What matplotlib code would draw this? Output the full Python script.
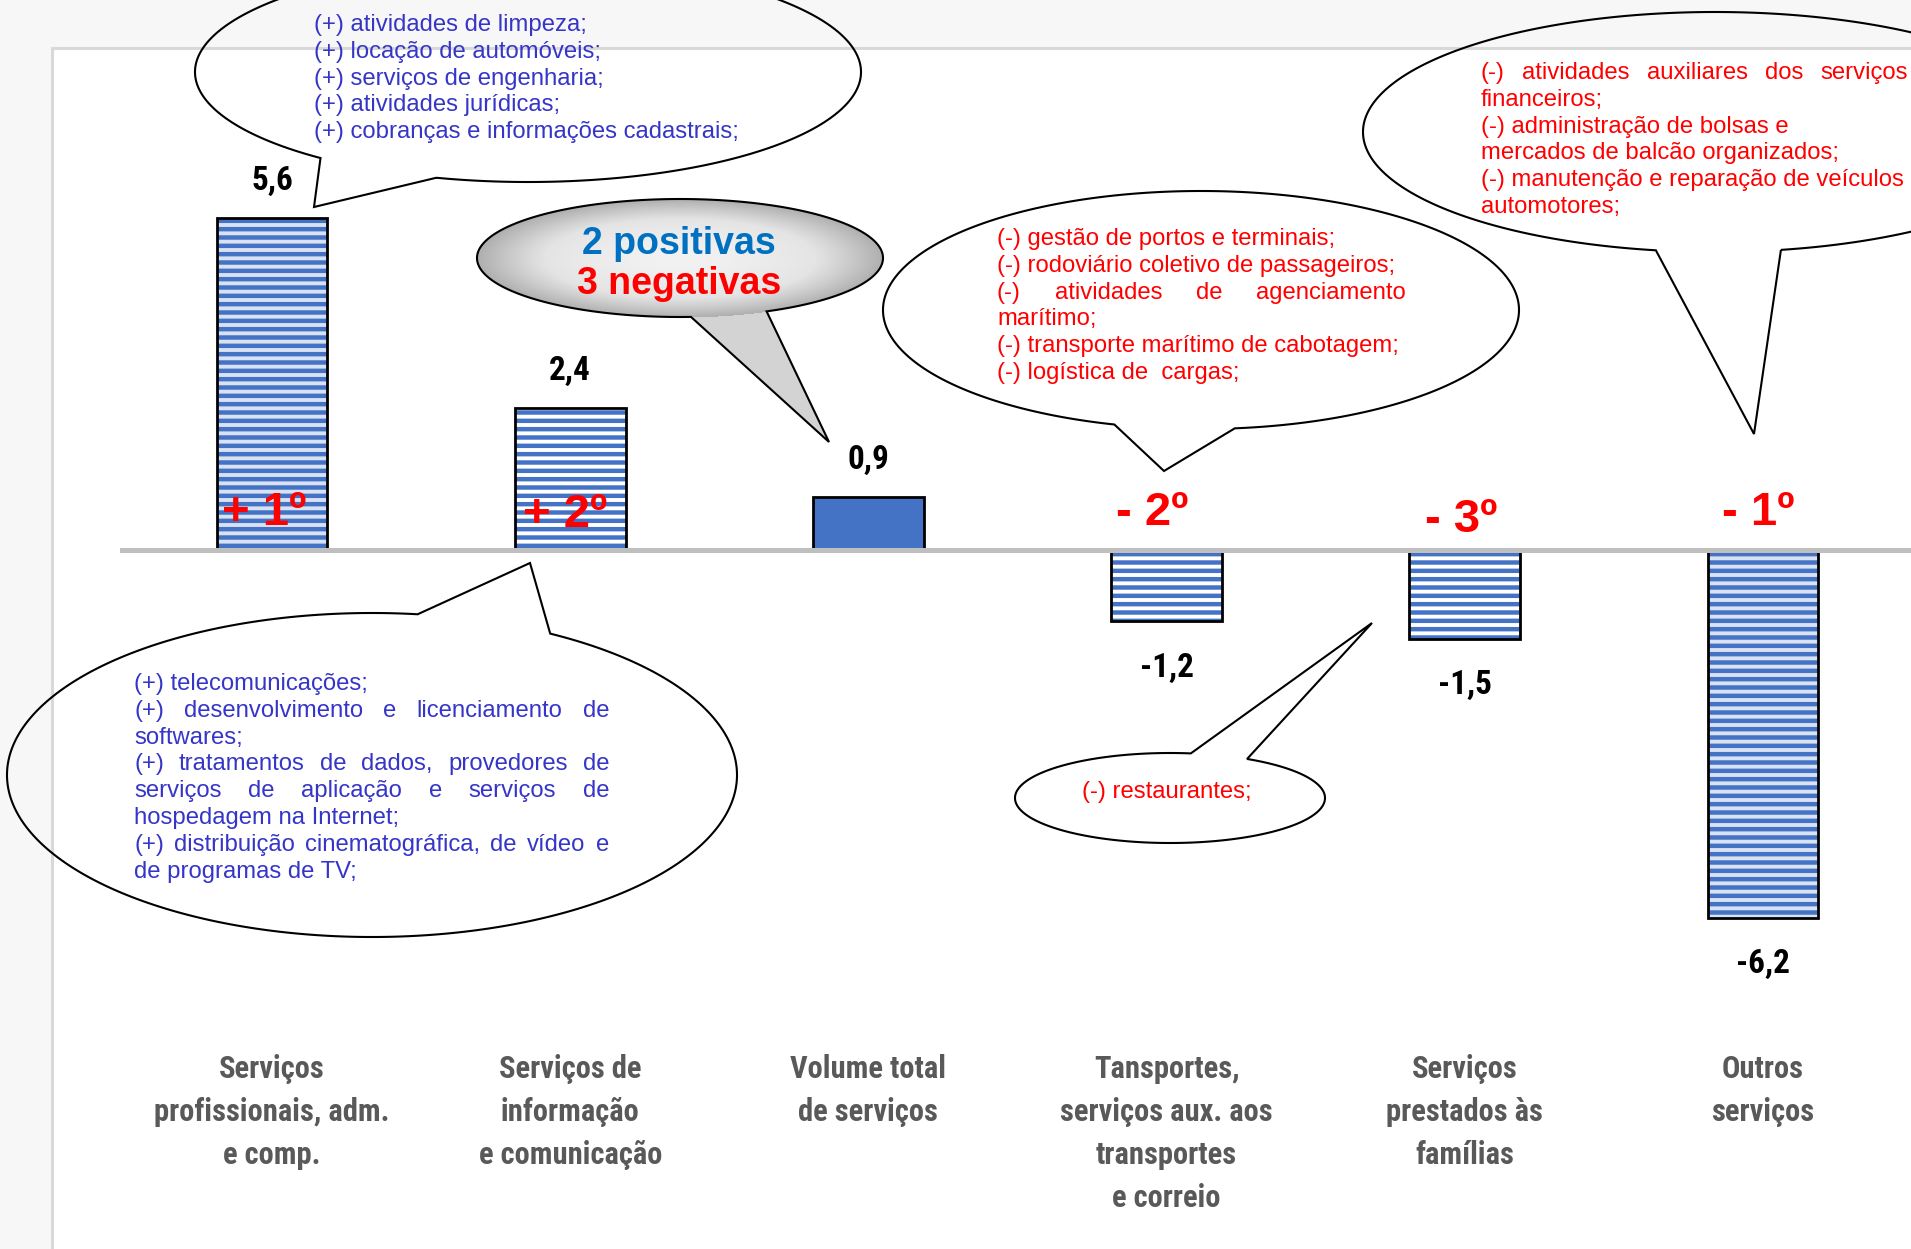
import os
import numpy as np
import matplotlib
matplotlib.use('Agg')
import matplotlib.pyplot as plt
from matplotlib import font_manager as fm
from matplotlib.font_manager import FontProperties
from matplotlib.patches import Polygon, Rectangle
import matplotlib.transforms as mtransforms
from matplotlib.colors import LinearSegmentedColormap

# ---------------- data ----------------
categories = ["Serviços\nprofissionais, adm.\ne comp.",
              "Serviços de\ninformação\ne comunicação",
              "Volume total\nde serviços",
              "Tansportes,\nserviços aux. aos\ntransportes\ne correio",
              "Serviços\nprestados às\nfamílias",
              "Outros\nserviços"]
values = [5.6, 2.4, 0.9, -1.2, -1.5, -6.2]
value_labels = ["5,6", "2,4", "0,9", "-1,2", "-1,5", "-6,2"]
rank_labels = ["+ 1º", "+ 2º", "", "- 2º", "- 3º", "- 1º"]

callout_prof = ["(+) atividades de limpeza;",
                "(+) locação de automóveis;",
                "(+) serviços de engenharia;",
                "(+) atividades jurídicas;",
                "(+) cobranças e informações cadastrais;"]
callout_info = ["(+) telecomunicações;",
                "(+) desenvolvimento e licenciamento de",
                "softwares;",
                "(+) tratamentos de dados, provedores de",
                "serviços de aplicação e serviços de",
                "hospedagem na Internet;",
                "(+) distribuição cinematográfica, de vídeo e",
                "de programas de TV;"]
callout_transp = ["(-) gestão de portos e terminais;",
                  "(-) rodoviário coletivo de passageiros;",
                  "(-) atividades de agenciamento",
                  "marítimo;",
                  "(-) transporte marítimo de cabotagem;",
                  "(-) logística de  cargas;"]
callout_outros = ["(-) atividades auxiliares dos serviços",
                  "financeiros;",
                  "(-) administração de bolsas e",
                  "mercados de balcão organizados;",
                  "(-) manutenção e reparação de veículos",
                  "automotores;"]
callout_familias = ["(-) restaurantes;"]
summary_pos = "2 positivas"
summary_neg = "3 negativas"

# ---------------- fonts ----------------
def find_font(keys):
    for k in keys:
        for f in fm.fontManager.ttflist:
            b = os.path.basename(f.fname).lower().replace(' ', '')
            if k in b and 'italic' not in b and 'oblique' not in b:
                return f.fname
    return None

cond_file = find_font(['opensans-condensedbold', 'opensans_condensed-bold',
                       'opensanscondensed-bold', 'robotocondensed-bold',
                       'notosans-condensedbold', 'liberationsansnarrow-bold',
                       'dejavusanscondensed-bold'])

def cond_fp(size):
    if cond_file:
        p = FontProperties(fname=cond_file)
    else:
        p = FontProperties(family='Lato', weight='bold')
    p.set_size(size)
    return p

W, H, DPI = 1911, 1249, 100
plt.rcParams['hatch.linewidth'] = 3.2
fig = plt.figure(figsize=(W / DPI, H / DPI), dpi=DPI, facecolor='#f7f7f7')
renderer = fig.canvas.get_renderer()

def text_width(s, fp):
    t = fig.text(0, 0, s, fontproperties=fp)
    w = t.get_window_extent(renderer).width
    t.remove()
    return w

fp_cat = cond_fp(20)
fp_cat.set_size(20 * 156 / text_width("Volume total", fp_cat))
fp_val = cond_fp(20)
fp_val.set_size(20 * 54 / text_width("-6,2", fp_val))
fp_call = FontProperties(family='Liberation Sans', size=17.2)
fp_rank = FontProperties(family='Liberation Sans', weight='bold', size=34)
fp_sum = FontProperties(family='Liberation Sans', weight='bold', size=27)

# ---------------- background panel ----------------
fig.patches.append(Rectangle((52 / W, -0.01), 1.0, 1 - 48 / H + 0.01,
                             transform=fig.transFigure, facecolor='white',
                             edgecolor='#d9d9d9', linewidth=2.2, zorder=-5))

# ---------------- main axes ----------------
ax = fig.add_axes([0, 0, 1, 1], zorder=1)
ax.set_facecolor('none')
ax.axis('off')
PX_X, X0, Y0, PX_Y = 298.2, 272, 550, 59.3
ax.set_xlim(-X0 / PX_X, (W - X0) / PX_X)
ax.set_ylim(-(H - Y0) / PX_Y, Y0 / PX_Y)
x = np.arange(len(values))

fills = ['#d9e2f3', 'white', '#4472c4', 'white', 'white', '#d9e2f3']
hatches = ['--', '--', None, '--', '--', '--']
bars = ax.bar(x, values, width=0.372, color=fills, edgecolor='#4472c4',
              linewidth=0, zorder=2)
for b, h in zip(bars, hatches):
    if h:
        b.set_hatch(h)
ax.bar(x, values, width=0.372, fill=False, edgecolor='black', linewidth=2, zorder=3)
ax.axhline(0, xmin=122 / W, xmax=1, color='#bfbfbf', linewidth=3.6, zorder=4)

for xi, v, lab in zip(x, values, value_labels):
    off = 40 if v > 0 else -43
    ax.annotate(lab, (xi, v), xytext=(0, off), textcoords='offset pixels',
                ha='center', va='center_baseline', fontproperties=fp_val,
                color='black', zorder=5)

rank_dx = [-8, -5, 0, -14, -4, -5]
rank_dy = [25, 23, 0, 25, 18, 25]
for xi, lab, dx, dy in zip(x, rank_labels, rank_dx, rank_dy):
    if lab:
        ax.annotate(lab, (xi, 0), xytext=(dx, dy), textcoords='offset pixels',
                    ha='center', va='baseline', fontproperties=fp_rank,
                    color='#ff0000', zorder=6)

# ---------------- overlay (pixel coords) ----------------
ov = fig.add_axes([0, 0, 1, 1], zorder=5)
ov.set_xlim(0, W)
ov.set_ylim(H, 0)
ov.axis('off')
ov.patch.set_alpha(0)

trans = mtransforms.blended_transform_factory(ax.transData, ov.transData)
for xi, cat in zip(x, categories):
    for j, line in enumerate(cat.split('\n')):
        ax.text(xi, 1066 + 43 * j, line, transform=trans, ha='center',
                va='center_baseline', fontproperties=fp_cat, color='#595959')


def bubble(cx, cy, rx, ry, b1, b2, tip, n=500):
    a1 = np.arctan2((b1[1] - cy) / ry, (b1[0] - cx) / rx)
    a2 = np.arctan2((b2[1] - cy) / ry, (b2[0] - cx) / rx)
    L = (a1 - a2) % (2 * np.pi)
    if L > np.pi:
        t = np.linspace(a2, a2 + L, n)
    else:
        t = np.linspace(a2, a2 - (2 * np.pi - L), n)
    pts = np.column_stack([cx + rx * np.cos(t), cy + ry * np.sin(t)])
    return np.vstack([pts, tip])


def draw_bubble(geom, fill='none'):
    pts = bubble(*geom)
    poly = Polygon(pts, closed=True, facecolor=fill, edgecolor='black',
                   linewidth=1.5, zorder=3)
    ov.add_patch(poly)
    return poly


def draw_lines(x0, y0, dy, lines, color, fp, right=None, just=()):
    for j, line in enumerate(lines):
        y = y0 + dy * j
        if j in just and right is not None:
            words = line.split()
            ws = [text_width(w, fp) for w in words]
            gap = (right - x0 - sum(ws)) / (len(words) - 1)
            xx = x0
            for wd, wdw in zip(words, ws):
                ov.text(xx, y, wd, ha='left', va='center_baseline',
                        fontproperties=fp, color=color, zorder=7)
                xx += wdw + gap
        else:
            ov.text(x0, y, line, ha='left', va='center_baseline',
                    fontproperties=fp, color=color, zorder=7)

BLUE_T = '#3535c8'
RED_T = '#ff0000'

# top-left (profissionais)
draw_bubble((528, 72, 333, 110, (323, 157), (437, 177), (314, 207)))
draw_lines(314, 22.5, 26.8, callout_prof, BLUE_T, fp_call)

# bottom-left (informação)
draw_bubble((372, 775, 365, 162, (418, 613), (551, 633), (530, 563)))
draw_lines(134, 681.5, 26.8, callout_info, BLUE_T, fp_call, right=609,
           just=(1, 3, 4, 6))

# middle (transportes)
draw_bubble((1201, 310, 318, 119, (1114, 425), (1235, 429), (1164, 471)))
draw_lines(997, 236.5, 26.8, callout_transp, RED_T, fp_call, right=1406, just=(2,))

# top-right (outros)
draw_bubble((1715, 132, 352, 120, (1655, 252), (1781, 250), (1754, 434)))
draw_lines(1481, 70.5, 26.8, callout_outros, RED_T, fp_call, right=1908, just=(0,))

# restaurants
draw_bubble((1170, 798, 155, 45, (1191, 753), (1247, 759), (1372, 623)))
draw_lines(1082, 789, 26.8, callout_familias, RED_T, fp_call)

# gray summary bubble with radial gradient
geom = (680, 258, 203, 59, (691, 317), (766, 311), (829, 442))
poly = draw_bubble(geom)
gx0, gx1, gy0, gy1 = 470, 890, 190, 450
yy, xx = np.mgrid[gy0:gy1, gx0:gx1]
r = np.sqrt(((xx - 680) / 203.0) ** 2 + ((yy - 258) / 59.0) ** 2)
r = np.where(r > 1.0, 0.78, r) ** 1.6
cmap = LinearSegmentedColormap.from_list('g', ['#f2f2f2', '#e4e4e4', '#a9a9a9'])
im = ov.imshow(r, extent=(gx0, gx1, gy1, gy0), origin='upper', cmap=cmap,
               vmin=0, vmax=1.05, aspect='auto', zorder=2, interpolation='bilinear')
im.set_clip_path(poly)
ov.set_xlim(0, W)
ov.set_ylim(H, 0)
ov.text(679, 240, summary_pos, ha='center', va='center_baseline',
        fontproperties=fp_sum, color='#0070c0', zorder=7)
ov.text(679, 280, summary_neg, ha='center', va='center_baseline',
        fontproperties=fp_sum, color='#ff0000', zorder=7)

fig.savefig('out.png', dpi=DPI, facecolor=fig.get_facecolor())
